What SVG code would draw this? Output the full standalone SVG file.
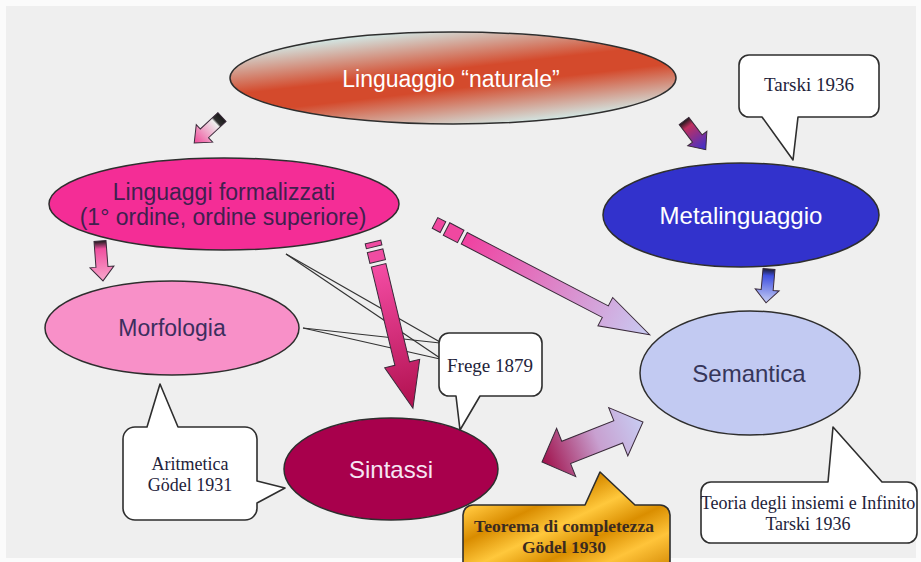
<svg xmlns="http://www.w3.org/2000/svg" width="921" height="562" viewBox="0 0 921 562">
<defs>
<style>
.node{stroke:#2e2e2e;stroke-width:1.5}
.lbl{font-family:"Liberation Sans",Arial,sans-serif;font-size:23px;text-anchor:middle}
.note{font-family:"Liberation Serif","Times New Roman",serif;font-size:19px;fill:#22223a;text-anchor:middle}
.call{fill:#ffffff;stroke:#2e2e2e;stroke-width:1.6;stroke-linejoin:round}
.arr{stroke:#3a2a3a;stroke-width:1;stroke-linejoin:miter}
.wedge{stroke:#333;stroke-width:1.2;fill:none}
</style>
<linearGradient id="gNat" x1="0.25" y1="0.05" x2="0.75" y2="0.95">
<stop offset="0" stop-color="#d2ecea"/>
<stop offset="0.42" stop-color="#d44a2c"/>
<stop offset="0.6" stop-color="#d44a2c"/>
<stop offset="1" stop-color="#d2ecea"/>
</linearGradient>
<linearGradient id="gGold" x1="0" y1="0" x2="1" y2="1">
<stop offset="0" stop-color="#d88a00"/>
<stop offset="0.2" stop-color="#ffc43a"/>
<stop offset="0.35" stop-color="#d98c00"/>
<stop offset="0.5" stop-color="#ffc83c"/>
<stop offset="0.65" stop-color="#da8e00"/>
<stop offset="0.8" stop-color="#ffc43a"/>
<stop offset="1" stop-color="#d08400"/>
</linearGradient>
<linearGradient id="gE" x1="0" y1="0" x2="1" y2="0">
<stop offset="0" stop-color="#f44ca4"/>
<stop offset="1" stop-color="#b0104e"/>
</linearGradient>
<linearGradient id="gF" x1="0" y1="0" x2="1" y2="0">
<stop offset="0" stop-color="#f040a0"/>
<stop offset="1" stop-color="#c8ccf2"/>
</linearGradient>
<linearGradient id="gG" x1="0" y1="0" x2="1" y2="0">
<stop offset="0" stop-color="#a0104a"/>
<stop offset="0.55" stop-color="#c8a0d0"/>
<stop offset="1" stop-color="#c8ccf2"/>
</linearGradient>
<linearGradient id="gA" x1="0" y1="0" x2="1" y2="0">
<stop offset="0" stop-color="#1a1a1a"/>
<stop offset="0.18" stop-color="#303030"/>
<stop offset="0.24" stop-color="#eeeeee"/>
<stop offset="1" stop-color="#f04898"/>
</linearGradient>
<linearGradient id="gB" x1="0" y1="0" x2="1" y2="0">
<stop offset="0" stop-color="#1a1a1a"/>
<stop offset="0.2" stop-color="#c03060"/>
<stop offset="1" stop-color="#3a30d0"/>
</linearGradient>
<linearGradient id="gC" x1="0" y1="0" x2="1" y2="0">
<stop offset="0" stop-color="#1a1a1a"/>
<stop offset="0.2" stop-color="#f050a0"/>
<stop offset="1" stop-color="#f8a8cc"/>
</linearGradient>
<linearGradient id="gD" x1="0" y1="0" x2="1" y2="0">
<stop offset="0" stop-color="#1a1a30"/>
<stop offset="0.2" stop-color="#4050e0"/>
<stop offset="1" stop-color="#c8d0f4"/>
</linearGradient>
</defs>

<rect x="0" y="0" width="921" height="562" fill="#fbfbfb"/>
<rect x="6" y="6" width="910" height="552" fill="#efefef"/>

<g id="connectors">
  <line class="wedge" x1="286" y1="254" x2="440" y2="342"/>
  <line class="wedge" x1="286" y1="254" x2="440" y2="358"/>
  <line class="wedge" x1="303" y1="328" x2="440" y2="343"/>
  <line class="wedge" x1="303" y1="328" x2="440" y2="359"/>
  <g transform="translate(222,117) rotate(137)"><polygon class="arr" fill="url(#gA)" points="0,-6 24,-6 24,-12 38,0 24,12 24,6 0,6"/></g>
  <g transform="translate(684,121) rotate(52.8)"><polygon class="arr" fill="url(#gB)" points="0,-6 22,-6 22,-12 36,0 22,12 22,6 0,6"/></g>
  <g transform="translate(100,241) rotate(85.7)"><polygon class="arr" fill="url(#gC)" points="0,-6 26,-6 26,-12 40,0 26,12 26,6 0,6"/></g>
  <g transform="translate(769,269) rotate(95)"><polygon class="arr" fill="url(#gD)" points="0,-6 21,-6 21,-12 34,0 21,12 21,6 0,6"/></g>
  <g transform="translate(373,242) rotate(76.5)">
    <polygon class="arr" fill="#f04ca2" points="0,-8 5,-8 5,8 0,8"/>
    <polygon class="arr" fill="#f04ca2" points="9,-8 20,-8 20,8 9,8"/>
    <polygon class="arr" fill="url(#gE)" points="24,-7.5 125,-7.5 125,-18 171,0 125,18 125,7.5 24,7.5"/>
  </g>
  <g transform="translate(435,223) rotate(27.5)">
    <polygon class="arr" fill="#f048a0" points="0,-6 9,-6 9,6 0,6"/>
    <polygon class="arr" fill="#f048a0" points="13,-7 29,-7 29,7 13,7"/>
    <polygon class="arr" fill="url(#gF)" points="33,-6.5 192,-6.5 192,-16 242,0 192,16 192,6.5 33,6.5"/>
  </g>
  <g transform="translate(542,462) rotate(-21.6)">
    <polygon class="arr" fill="url(#gG)" points="0,0 26,-26 26,-12 82,-12 82,-26 108.6,0 82,26 82,12 26,12 26,26"/>
  </g>
</g>

<g id="n-naturale">
  <ellipse class="node" cx="453" cy="78" rx="223" ry="46" fill="url(#gNat)"/>
  <text class="lbl" x="451" y="87" fill="#ffffff">Linguaggio “naturale”</text>
</g>

<g id="n-formalizzati">
  <ellipse class="node" cx="224" cy="204" rx="175" ry="46" fill="#f42d96"/>
  <text class="lbl" x="224" y="200" fill="#40204e">Linguaggi formalizzati</text>
  <text class="lbl" x="223" y="225" fill="#40204e">(1° ordine, ordine superiore)</text>
</g>

<g id="n-metalinguaggio">
  <ellipse class="node" cx="741" cy="215" rx="138" ry="52" fill="#3232cc"/>
  <text class="lbl" x="741" y="224" fill="#ffffff" style="font-size:24px">Metalinguaggio</text>
</g>

<g id="n-morfologia">
  <ellipse class="node" cx="172" cy="328" rx="127" ry="47" fill="#f890c8"/>
  <text class="lbl" x="172" y="336" fill="#3c2e5e">Morfologia</text>
</g>

<g id="n-sintassi">
  <ellipse class="node" cx="391" cy="469" rx="107" ry="51" fill="#a8004c"/>
  <text class="lbl" x="391" y="478" fill="#f6e6f4" style="font-size:24px">Sintassi</text>
</g>

<g id="n-semantica">
  <ellipse class="node" cx="750" cy="373" rx="110" ry="62" fill="#c2caf2"/>
  <text class="lbl" x="749" y="382" fill="#36365a" style="font-size:24px">Semantica</text>
</g>

<g id="c-tarski">
  <path class="call" d="M749,55 H869 A10,10 0 0 1 879,65 V107 A10,10 0 0 1 869,117 H798 L793,160 L762,117 H749 A10,10 0 0 1 739,107 V65 A10,10 0 0 1 749,55 Z"/>
  <text class="note" x="809" y="91">Tarski 1936</text>
</g>

<g id="c-frege">
  <path class="call" d="M449,333 H532 A10,10 0 0 1 542,343 V386 A10,10 0 0 1 532,396 H480 L460,430 L456,396 H449 A10,10 0 0 1 439,386 V343 A10,10 0 0 1 449,333 Z"/>
  <text class="note" x="490" y="372">Frege 1879</text>
</g>

<g id="c-aritmetica">
  <path class="call" d="M135,427 H147 L160,384 L178,427 H245 A12,12 0 0 1 257,439 V481 L285,488 L257,503 V508 A12,12 0 0 1 245,520 H135 A12,12 0 0 1 123,508 V439 A12,12 0 0 1 135,427 Z"/>
  <text class="note" x="190" y="470" style="font-size:18px">Aritmetica</text>
  <text class="note" x="190" y="491" style="font-size:18px">Gödel 1931</text>
</g>

<g id="c-teoria">
  <path class="call" d="M711,482 H828 L833,427 L882,482 H907 A10,10 0 0 1 917,492 V533 A10,10 0 0 1 907,543 H711 A10,10 0 0 1 701,533 V492 A10,10 0 0 1 711,482 Z"/>
  <text class="note" x="808" y="509" style="font-size:18px">Teoria degli insiemi e Infinito</text>
  <text class="note" x="808" y="530" style="font-size:18px">Tarski 1936</text>
</g>

<g id="c-teorema">
  <path class="call" style="fill:url(#gGold)" d="M473,505 H585 L600,472 L635,505 H660 A10,10 0 0 1 670,515 V572 H463 V515 A10,10 0 0 1 473,505 Z"/>
  <text class="note" x="564" y="532" style="font-weight:bold;font-size:17.5px;fill:#3a2a20">Teorema di completezza</text>
  <text class="note" x="564" y="553" style="font-weight:bold;font-size:17.5px;fill:#3a2a20">Gödel 1930</text>
</g>
</svg>
